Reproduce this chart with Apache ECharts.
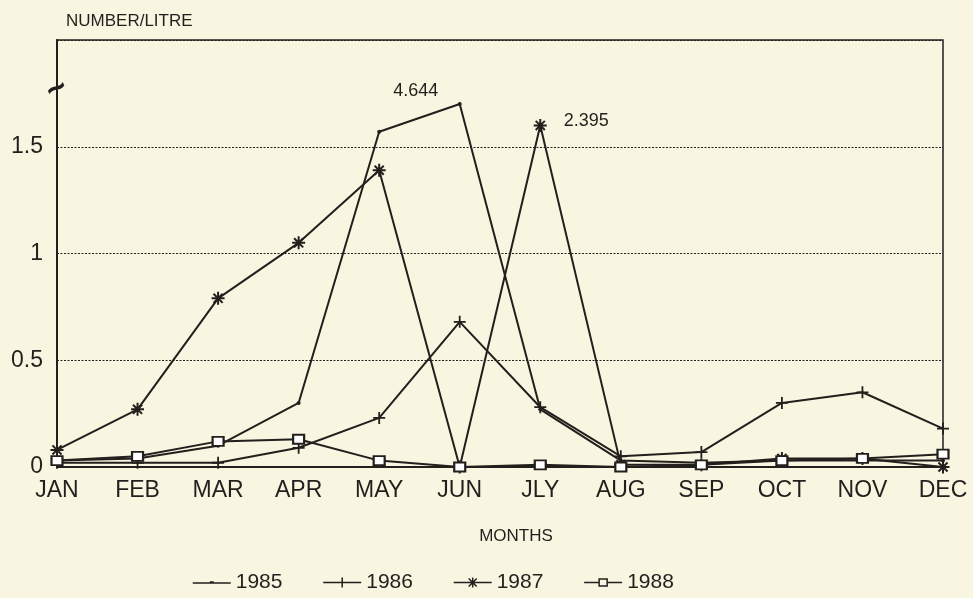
<!DOCTYPE html>
<html>
<head>
<meta charset="UTF-8">
<title>Number/litre by month</title>
<style>
  html, body { margin: 0; padding: 0; background: #f8f5e1; }
  #chart { width: 973px; height: 598px; }
</style>
</head>
<body>
<div id="chart"></div>
<script src="https://cdn.jsdelivr.net/npm/echarts@6/dist/echarts.min.js"></script>
<script>
// months on the x axis
const months = ['JAN', 'FEB', 'MAR', 'APR', 'MAY', 'JUN', 'JLY', 'AUG', 'SEP', 'OCT', 'NOV', 'DEC'];
const years = ['1985', '1986', '1987', '1988'];

// values as drawn (points above the axis break are drawn at the top of the plot)
const y1985 = [0.03, 0.04, 0.10, 0.30, 1.57, 1.70, 0.27, 0.03, 0.02, 0.03, 0.03, 0.03];
const y1986 = [0.02, 0.02, 0.02, 0.09, 0.23, 0.68, 0.28, 0.05, 0.07, 0.30, 0.35, 0.18];
const y1987 = [0.08, 0.27, 0.79, 1.05, 1.39, 0.00, 1.60, 0.01, 0.01, 0.04, 0.04, 0.00];
const y1988 = [0.03, 0.05, 0.12, 0.13, 0.03, 0.00, 0.01, 0.00, 0.01, 0.03, 0.04, 0.06];

// true values written beside the broken points
const peak1985 = { month: 'JUN', text: '4.644' };
const peak1987 = { month: 'JLY', text: '2.395' };

const yTicks = [0, 0.5, 1, 1.5];

const ink = '#231f1c';
const paper = '#f8f5e1';
const font = '"Liberation Sans", Arial, sans-serif';

const plus = 'path://M0,5L10,5M5,0L5,10';
const star = 'path://M0,5L10,5M5,0L5,10M1.5,1.5L8.5,8.5M8.5,1.5L1.5,8.5';

// legend icons: the line with its marker
const legendIcons = {
  '1985': 'path://M0,6L38,6M17,5L21,5',
  '1986': 'path://M0,6L38,6M19,1L19,11',
  '1987': 'path://M0,6L38,6M19,1L19,11M15,2L23,10M23,2L15,10',
  '1988': 'path://M0,6L15,6M23,6L38,6M15,2.5L23,2.5L23,9.5L15,9.5Z'
};

function withPeak(values, peak, label) {
  return values.map(function (v, i) {
    if (months[i] === peak.month) {
      return { value: v, label: Object.assign({ show: true, formatter: peak.text }, label) };
    }
    return v;
  });
}

const chart = echarts.init(document.getElementById('chart'));

const labelStyle = { color: ink, fontFamily: font, fontSize: 18 };

chart.setOption({
  backgroundColor: paper,
  animation: false,
  textStyle: { fontFamily: font, color: ink },
  grid: {
    left: 57, right: 30, top: 40, bottom: 131,
    show: true, borderColor: ink, borderWidth: 1.5, backgroundColor: 'transparent'
  },
  title: [
    { text: 'NUMBER/LITRE', left: 61, top: 8,
      textStyle: { fontSize: 17, fontWeight: 'normal', color: ink, fontFamily: font } },
    { text: 'MONTHS', left: 511, top: 523, textAlign: 'center',
      textStyle: { fontSize: 17, fontWeight: 'normal', color: ink, fontFamily: font } }
  ],
  legend: {
    data: years.map(function (y) {
      return {
        name: y,
        icon: legendIcons[y],
        itemStyle: { color: y === '1988' ? paper : ink, borderColor: ink, borderWidth: 1.5 }
      };
    }),
    left: 187,
    top: 567,
    itemWidth: 38,
    itemHeight: 12,
    itemGap: 40,
    textStyle: { fontSize: 21, color: ink, fontFamily: font },
    inactiveColor: ink
  },
  xAxis: {
    type: 'category',
    data: months,
    boundaryGap: false,
    axisLine: { lineStyle: { color: ink, width: 2 } },
    axisTick: { show: false },
    axisLabel: { color: ink, fontSize: 23, fontFamily: font, margin: 12 },
    splitLine: { show: false }
  },
  yAxis: {
    type: 'value',
    min: 0,
    max: 2,
    interval: 0.5,
    axisLine: { show: true, lineStyle: { color: ink, width: 2 } },
    axisTick: { show: false },
    axisLabel: {
      color: ink, fontSize: 23, fontFamily: font, margin: 14,
      formatter: function (v) { return yTicks.indexOf(v) >= 0 ? String(v) : ''; }
    },
    splitLine: { show: true, lineStyle: { color: ink, width: 1.2, type: [2, 1.5] } }
  },
  graphic: [
    { type: 'text', left: 40, top: 70, rotation: 0.5,
      style: { text: '~', fontSize: 34, fontWeight: 'bold', fill: ink, fontFamily: font } }
  ],
  series: [
    {
      name: '1985', type: 'line',
      data: withPeak(y1985, peak1985, Object.assign({ position: 'top', offset: [-44, 3] }, labelStyle)),
      symbol: 'circle', symbolSize: 4,
      lineStyle: { color: ink, width: 2 },
      itemStyle: { color: ink }
    },
    {
      name: '1986', type: 'line',
      data: y1986,
      symbol: plus, symbolSize: 12,
      lineStyle: { color: ink, width: 2 },
      itemStyle: { color: ink, borderColor: ink, borderWidth: 1.8 }
    },
    {
      name: '1987', type: 'line',
      data: withPeak(y1987, peak1987, Object.assign({ position: 'right', distance: 16, offset: [0, -4] }, labelStyle)),
      symbol: star, symbolSize: 13,
      lineStyle: { color: ink, width: 2 },
      itemStyle: { color: ink, borderColor: ink, borderWidth: 2 }
    },
    {
      name: '1988', type: 'line',
      data: y1988,
      symbol: 'emptyRect', symbolSize: [11, 9],
      lineStyle: { color: ink, width: 2 },
      itemStyle: { color: ink, borderColor: ink, borderWidth: 1.8 }
    }
  ]
});
</script>
</body>
</html>
